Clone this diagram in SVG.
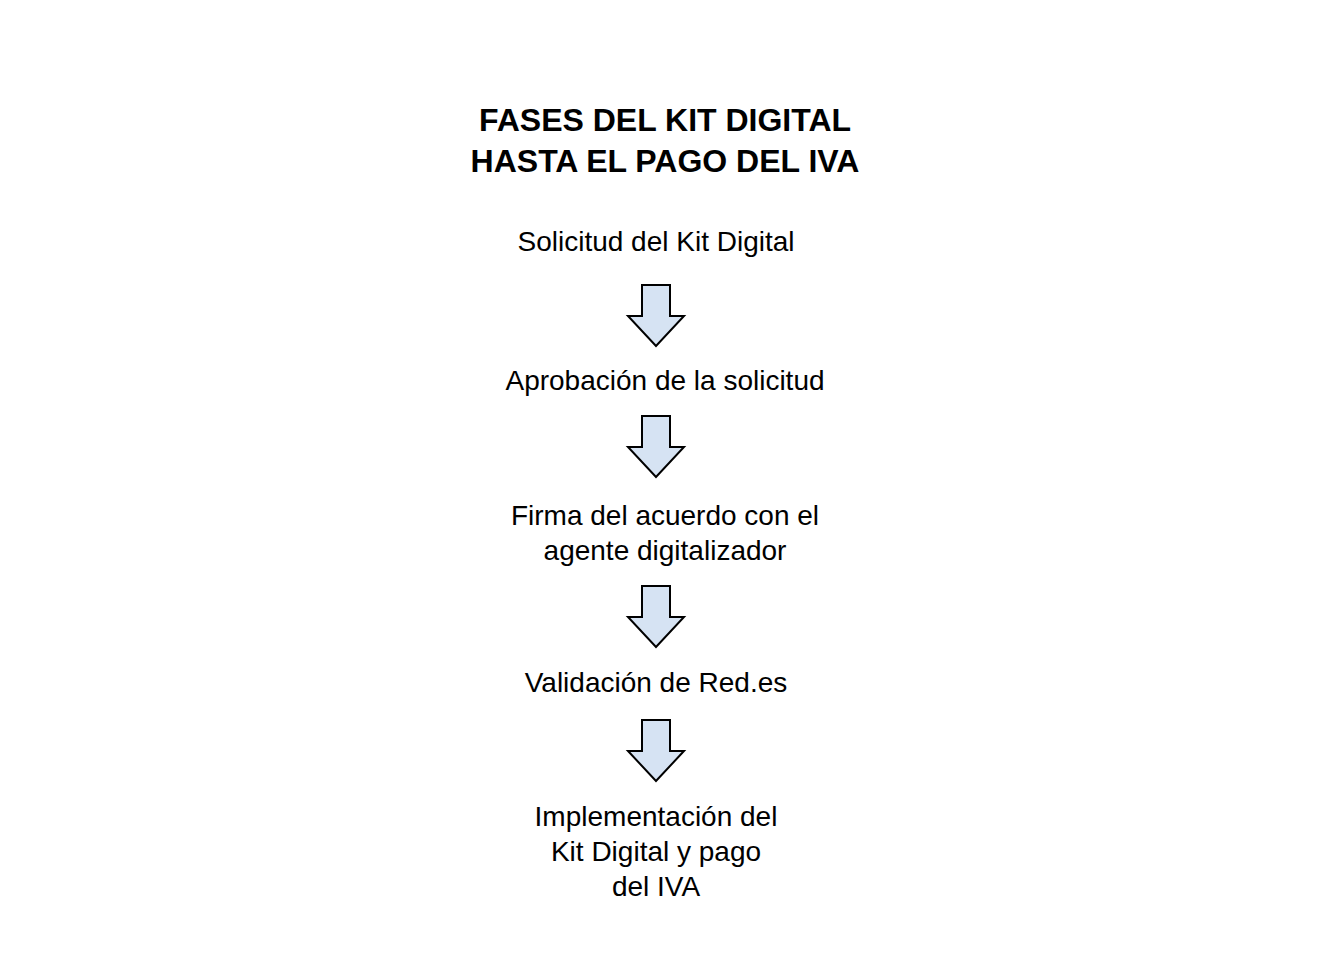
<svg xmlns="http://www.w3.org/2000/svg" width="1342" height="966" viewBox="0 0 1342 966">
<style>
text{font-family:"Liberation Sans",Arial,sans-serif;fill:#000;text-anchor:middle}
.t{font-size:32px;font-weight:bold}
.n{font-size:28px}
.a{fill:#d6e3f3;stroke:#000;stroke-width:2}
</style>
<defs><path id="arr" class="a" d="M-14,0 H14 V31 H28 L0,61 L-28,31 H-14 Z"/></defs>
<rect width="1342" height="966" fill="#fff"/>
<g id="title"><text class="t" x="665" y="131">FASES DEL KIT DIGITAL</text><text class="t" x="665" y="172">HASTA EL PAGO DEL IVA</text></g>
<g id="n1"><text class="n" x="656" y="251">Solicitud del Kit Digital</text></g>
<g id="n2"><text class="n" x="665" y="390">Aprobación de la solicitud</text></g>
<g id="n3"><text class="n" x="665" y="525">Firma del acuerdo con el</text><text class="n" x="665" y="560">agente digitalizador</text></g>
<g id="n4"><text class="n" x="656" y="692">Validación de Red.es</text></g>
<g id="n5"><text class="n" x="656" y="826">Implementación del</text><text class="n" x="656" y="861">Kit Digital y pago</text><text class="n" x="656" y="896">del IVA</text></g>
<g id="connectors">
<use href="#arr" x="656" y="285"/>
<use href="#arr" x="656" y="416"/>
<use href="#arr" x="656" y="586"/>
<use href="#arr" x="656" y="720"/>
</g>
</svg>
